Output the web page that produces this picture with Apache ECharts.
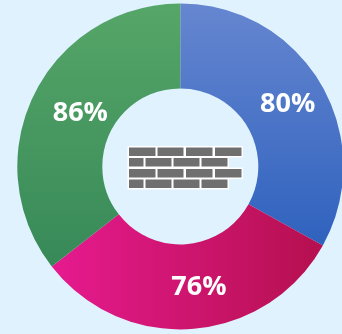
<!DOCTYPE html>
<html>
<head>
<meta charset="utf-8">
<style>
  html, body { margin: 0; padding: 0; background: #dff2fe; }
  #chart { width: 342px; height: 334px; }
</style>
<script src="https://cdn.jsdelivr.net/npm/echarts@6/dist/echarts.min.js"></script>
</head>
<body>
<div id="chart"></div>
<script>
// Segment values, in clockwise order from twelve o'clock
const segmentLabels = ['80%', '76%', '86%'];
const segmentValues = [80, 76, 86];

// Gradient endpoints per segment: [x2, y2, start colour, end colour]
const segmentFills = [
  [0, 1, '#6686d0', '#2f62be'],
  [1, 0, '#e61a8f', '#b5104f'],
  [0, 1, '#56a668', '#378958']
];
// Small nudges that place each percentage on its segment
const labelNudges = [[1, 1], [9, -2.5], [11, 1]];

// Brick wall icon: rows of [x, width], one top y per row
const brickRowTops = [147.5, 158, 169, 179.5];
const brickRowA = [[129, 26.5], [157.5, 26], [186, 26.5], [215, 26.5]];
const brickRowB = [[129, 14.5], [145.5, 26], [173.5, 26], [201.5, 26]];
const brickHeight = 8.5;

// White backing first so the outline never cuts into a neighbouring brick
const wallBacking = [];
const wallBricks = [];
brickRowTops.forEach((top, row) => {
  (row % 2 === 0 ? brickRowA : brickRowB).forEach(([x, w]) => {
    wallBacking.push({
      type: 'rect',
      silent: true,
      shape: { x: x - 1.5, y: top - 1.5, width: w + 3, height: brickHeight + 3 },
      style: { fill: '#ffffff' }
    });
    wallBricks.push({
      type: 'rect',
      silent: true,
      shape: { x: x, y: top, width: w, height: brickHeight },
      style: { fill: '#6f6f6f' }
    });
  });
});

const chart = echarts.init(document.getElementById('chart'), null, { renderer: 'canvas' });
chart.setOption({
  animation: false,
  backgroundColor: '#dff2fe',
  series: [{
    type: 'pie',
    center: [180.3, 166.4],
    radius: [78, 163],
    startAngle: 90,
    clockwise: true,
    silent: true,
    label: {
      show: true,
      position: 'inside',
      color: '#ffffff',
      fontFamily: '"Open Sans", sans-serif',
      fontWeight: 'bold',
      fontSize: 27,
      formatter: (p) => segmentLabels[p.dataIndex]
    },
    labelLine: { show: false },
    labelLayout: (p) => ({
      dx: labelNudges[p.dataIndex][0],
      dy: labelNudges[p.dataIndex][1]
    }),
    data: segmentValues.map((value, i) => ({
      value: value,
      itemStyle: {
        color: new echarts.graphic.LinearGradient(0, 0, segmentFills[i][0], segmentFills[i][1], [
          { offset: 0, color: segmentFills[i][2] },
          { offset: 1, color: segmentFills[i][3] }
        ])
      }
    }))
  }],
  graphic: [{ type: 'group', silent: true, children: wallBacking.concat(wallBricks) }]
});
</script>
</body>
</html>
